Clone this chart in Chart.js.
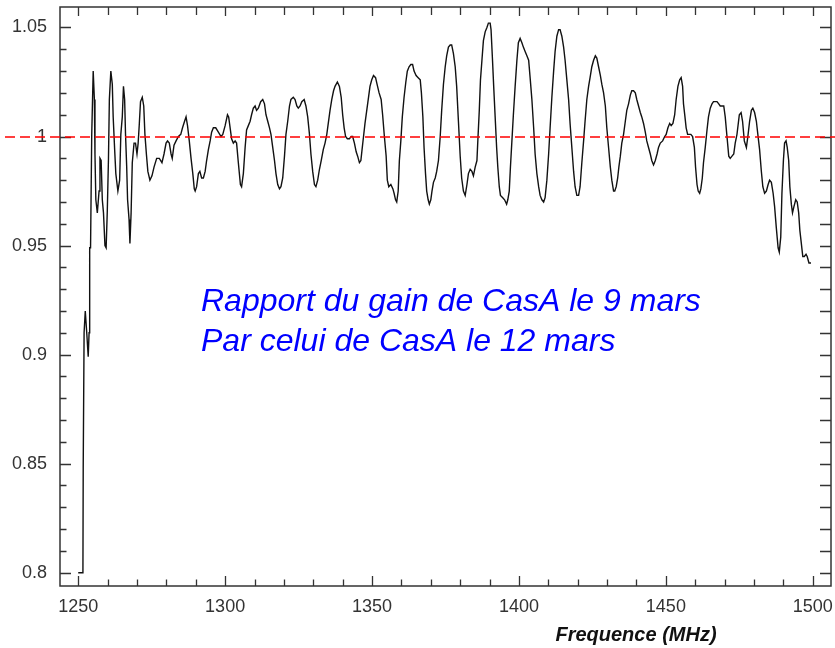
<!DOCTYPE html>
<html>
<head>
<meta charset="utf-8">
<script src="https://cdn.jsdelivr.net/npm/chart.js@4.4.1/dist/chart.umd.min.js"></script>
<style>
  html, body { margin: 0; padding: 0; background: #fff; }
  #wrap { width: 835px; height: 648px; }
</style>
</head>
<body>
<div id="wrap"><canvas id="gainChart" width="835" height="648"></canvas></div>
<script>
// Ratio of CasA gain (9 mars / 12 mars)
const freqs = [
  1250.0, 1251.6, 1251.7, 1251.9, 1252.0, 1252.4, 1252.9, 1253.4, 1253.7, 1253.9,
  1254.2, 1254.6, 1255.1, 1255.5, 1255.7, 1256.0, 1256.5, 1257.1, 1257.4, 1257.8,
  1258.2, 1258.6, 1259.1, 1259.5, 1259.9, 1260.3, 1260.6, 1261.1, 1261.6, 1261.9,
  1262.4, 1262.8, 1263.5, 1264.1, 1264.5, 1265.0, 1265.4, 1265.8, 1266.1, 1266.5,
  1266.8, 1267.3, 1267.6, 1268.0, 1268.4, 1269.0, 1269.5, 1270.0, 1270.4, 1270.8,
  1271.2, 1271.8, 1272.3, 1272.7, 1273.2, 1273.7, 1274.4, 1275.1, 1275.8, 1276.7,
  1277.6, 1278.5, 1279.2, 1279.9, 1280.4, 1281.0, 1281.6, 1282.0, 1282.6, 1283.3,
  1284.1, 1284.9, 1285.5, 1286.2, 1286.7, 1287.2, 1287.8, 1288.4, 1289.0, 1289.5,
  1289.8, 1290.3, 1290.9, 1291.4, 1292.0, 1292.6, 1293.2, 1293.7, 1294.3, 1294.9,
  1295.4, 1296.0, 1296.8, 1297.7, 1298.6, 1299.2, 1300.0, 1300.8, 1301.2, 1301.7,
  1302.2, 1302.8, 1303.4, 1303.9, 1304.5, 1305.2, 1305.6, 1306.2, 1306.8, 1307.3,
  1307.9, 1308.5, 1309.0, 1309.6, 1310.2, 1310.7, 1311.3, 1312.1, 1312.8, 1313.4,
  1313.9, 1314.5, 1315.1, 1315.6, 1316.2, 1316.8, 1317.3, 1317.9, 1318.5, 1319.0,
  1319.6, 1320.2, 1320.7, 1321.3, 1321.9, 1322.4, 1323.2, 1323.8, 1324.4, 1324.9,
  1325.5, 1326.1, 1326.9, 1327.5, 1328.1, 1328.7, 1329.2, 1329.8, 1330.4, 1330.9,
  1331.5, 1332.1, 1332.7, 1333.4, 1334.0, 1334.6, 1335.1, 1335.7, 1336.3, 1336.9,
  1337.4, 1338.2, 1338.9, 1339.5, 1340.0, 1340.5, 1341.0, 1341.6, 1342.3, 1342.9,
  1343.4, 1344.0, 1344.6, 1345.1, 1345.7, 1346.2, 1346.6, 1347.1, 1347.6, 1348.2,
  1348.8, 1349.3, 1349.9, 1350.5, 1351.2, 1351.7, 1352.4, 1353.1, 1353.6, 1354.2,
  1354.8, 1355.2, 1355.7, 1356.4, 1357.1, 1357.5, 1358.0, 1358.4, 1358.9, 1359.3,
  1359.8, 1360.3, 1360.9, 1361.5, 1362.0, 1362.6, 1363.2, 1363.8, 1364.3, 1365.0,
  1365.7, 1366.4, 1366.8, 1367.3, 1367.7, 1368.2, 1368.6, 1369.1, 1369.5, 1370.0,
  1370.4, 1370.9, 1371.5, 1372.0, 1372.6, 1373.2, 1373.7, 1374.3, 1374.9, 1375.4,
  1376.0, 1376.6, 1377.1, 1377.7, 1378.3, 1378.8, 1379.4, 1380.0, 1380.5, 1381.1,
  1381.7, 1382.3, 1382.8, 1383.4, 1384.0, 1384.5, 1385.1, 1385.7, 1386.0, 1386.5,
  1386.9, 1387.4, 1387.9, 1388.5, 1389.1, 1389.6, 1390.2, 1390.5, 1391.0, 1391.4,
  1391.9, 1392.4, 1392.8, 1393.3, 1393.7, 1394.4, 1395.1, 1395.8, 1396.2, 1396.7,
  1397.1, 1397.6, 1398.1, 1398.7, 1399.3, 1399.8, 1400.4, 1401.0, 1401.5, 1402.1,
  1402.7, 1403.3, 1403.8, 1404.4, 1405.0, 1405.5, 1406.1, 1406.7, 1407.2, 1407.8,
  1408.4, 1408.9, 1409.5, 1410.1, 1410.6, 1411.2, 1411.8, 1412.3, 1412.9, 1413.5,
  1414.0, 1414.6, 1415.2, 1415.7, 1416.3, 1416.9, 1417.4, 1418.0, 1418.6, 1419.1,
  1419.7, 1420.3, 1420.8, 1421.4, 1422.0, 1422.5, 1423.1, 1423.7, 1424.2, 1424.8,
  1425.4, 1426.0, 1426.5, 1427.1, 1427.7, 1428.2, 1428.8, 1429.4, 1429.9, 1430.5,
  1431.1, 1431.6, 1432.2, 1432.6, 1433.1, 1433.6, 1434.0, 1434.5, 1435.0, 1435.6,
  1436.2, 1436.7, 1437.3, 1437.9, 1438.4, 1439.0, 1439.6, 1440.1, 1440.7, 1441.3,
  1441.8, 1442.4, 1443.0, 1443.5, 1444.1, 1444.7, 1445.2, 1445.8, 1446.4, 1447.0,
  1447.5, 1448.1, 1448.9, 1449.6, 1450.1, 1450.7, 1451.3, 1451.8, 1452.4, 1453.0,
  1453.5, 1454.1, 1454.7, 1455.2, 1455.7, 1456.0, 1456.5, 1456.9, 1457.4, 1458.0,
  1458.5, 1459.1, 1459.7, 1460.1, 1460.6, 1461.0, 1461.5, 1461.9, 1462.4, 1462.8,
  1463.4, 1464.0, 1464.5, 1465.1, 1465.7, 1466.2, 1466.8, 1467.4, 1468.0, 1468.5,
  1469.1, 1469.7, 1470.2, 1470.8, 1471.4, 1471.9, 1472.5, 1473.1, 1473.6, 1474.2,
  1475.0, 1475.6, 1476.1, 1476.7, 1477.4, 1477.9, 1478.5, 1479.1, 1479.6, 1480.2,
  1480.8, 1481.3, 1481.9, 1482.5, 1483.0, 1483.6, 1484.2, 1484.8, 1485.3, 1485.9,
  1486.5, 1487.0, 1487.6, 1488.2, 1488.6, 1489.1, 1489.5, 1490.0, 1490.4, 1490.9,
  1491.3, 1491.8, 1492.2, 1492.7, 1493.1, 1493.6, 1494.2, 1494.7, 1495.2, 1495.6,
  1496.1, 1496.6, 1497.1, 1497.7, 1498.1, 1498.7, 1499.4
];
const gains = [
  0.800, 0.800, 0.848, 0.848, 0.910, 0.920, 0.910, 0.899, 0.910, 0.949,
  0.949, 1.001, 1.030, 1.017, 0.992, 0.971, 0.965, 0.975, 0.990, 0.989,
  0.971, 0.965, 0.950, 0.949, 0.966, 0.990, 1.017, 1.030, 1.024, 1.009,
  0.994, 0.983, 0.975, 0.980, 1.001, 1.009, 1.023, 1.017, 1.001, 0.986,
  0.971, 0.962, 0.951, 0.965, 0.988, 0.997, 0.997, 0.992, 0.997, 1.006,
  1.016, 1.018, 1.014, 1.001, 0.992, 0.984, 0.980, 0.982, 0.986, 0.990,
  0.990, 0.988, 0.992, 0.997, 0.998, 0.997, 0.992, 0.990, 0.996, 0.998,
  1.000, 1.001, 1.004, 1.007, 1.009, 1.005, 0.998, 0.990, 0.983, 0.976,
  0.975, 0.977, 0.983, 0.984, 0.981, 0.981, 0.984, 0.989, 0.994, 0.998,
  1.002, 1.004, 1.004, 1.002, 1.000, 1.001, 1.005, 1.010, 1.009, 1.004,
  0.999, 0.997, 0.998, 0.997, 0.988, 0.978, 0.977, 0.983, 0.995, 1.003,
  1.005, 1.007, 1.010, 1.013, 1.014, 1.012, 1.013, 1.016, 1.017, 1.015,
  1.010, 1.007, 1.004, 1.001, 0.995, 0.989, 0.983, 0.978, 0.976, 0.977,
  0.981, 0.991, 1.001, 1.007, 1.014, 1.017, 1.018, 1.017, 1.014, 1.013,
  1.014, 1.016, 1.017, 1.014, 1.009, 1.001, 0.992, 0.984, 0.978, 0.977,
  0.980, 0.985, 0.989, 0.994, 0.997, 1.001, 1.006, 1.012, 1.017, 1.021,
  1.023, 1.025, 1.023, 1.018, 1.010, 1.004, 1.000, 0.999, 0.999, 1.000,
  1.000, 0.997, 0.993, 0.991, 0.988, 0.989, 0.994, 1.000, 1.006, 1.012,
  1.018, 1.023, 1.026, 1.028, 1.027, 1.024, 1.020, 1.017, 1.010, 1.000,
  0.991, 0.980, 0.977, 0.978, 0.976, 0.974, 0.971, 0.970, 0.975, 0.989,
  0.998, 1.009, 1.018, 1.025, 1.030, 1.032, 1.033, 1.033, 1.030, 1.028,
  1.027, 1.026, 1.020, 1.009, 0.995, 0.983, 0.975, 0.971, 0.969, 0.971,
  0.975, 0.979, 0.981, 0.984, 0.989, 1.000, 1.012, 1.024, 1.032, 1.037,
  1.041, 1.042, 1.042, 1.038, 1.032, 1.023, 1.007, 0.991, 0.981, 0.975,
  0.973, 0.978, 0.983, 0.985, 0.984, 0.982, 0.986, 0.989, 0.998, 1.012,
  1.026, 1.035, 1.044, 1.048, 1.050, 1.052, 1.052, 1.049, 1.035, 1.023,
  1.009, 0.995, 0.986, 0.977, 0.973, 0.972, 0.971, 0.969, 0.971, 0.975,
  0.986, 0.998, 1.010, 1.023, 1.035, 1.043, 1.045, 1.043, 1.041, 1.039,
  1.037, 1.035, 1.027, 1.017, 1.004, 0.992, 0.983, 0.977, 0.973, 0.971,
  0.970, 0.972, 0.980, 0.992, 1.004, 1.018, 1.030, 1.039, 1.046, 1.049,
  1.049, 1.046, 1.041, 1.035, 1.026, 1.017, 1.006, 0.995, 0.984, 0.977,
  0.973, 0.973, 0.977, 0.988, 0.998, 1.007, 1.017, 1.023, 1.027, 1.032,
  1.035, 1.037, 1.036, 1.032, 1.028, 1.024, 1.020, 1.014, 1.004, 0.995,
  0.986, 0.980, 0.975, 0.975, 0.977, 0.981, 0.986, 0.991, 0.997, 1.001,
  1.007, 1.012, 1.015, 1.019, 1.021, 1.021, 1.020, 1.017, 1.014, 1.011,
  1.009, 1.006, 1.002, 0.998, 0.995, 0.992, 0.989, 0.987, 0.989, 0.992,
  0.995, 0.997, 0.998, 1.000, 1.001, 1.004, 1.006, 1.005, 1.006, 1.010,
  1.017, 1.023, 1.026, 1.027, 1.023, 1.015, 1.009, 1.004, 1.001, 1.001,
  1.001, 1.000, 0.995, 0.986, 0.978, 0.975, 0.974, 0.976, 0.981, 0.988,
  0.995, 1.003, 1.009, 1.013, 1.015, 1.016, 1.016, 1.016, 1.015, 1.014,
  1.014, 1.014, 1.009, 1.000, 0.991, 0.990, 0.991, 0.992, 0.997, 1.001,
  1.010, 1.011, 1.007, 0.998, 0.995, 1.000, 1.007, 1.012, 1.013, 1.011,
  1.007, 1.001, 0.994, 0.984, 0.977, 0.974, 0.975, 0.978, 0.980, 0.979,
  0.974, 0.968, 0.958, 0.949, 0.947, 0.954, 0.974, 0.989, 0.997, 0.998,
  0.995, 0.989, 0.977, 0.969, 0.965, 0.968, 0.971, 0.970, 0.965, 0.957,
  0.951, 0.945, 0.945, 0.946, 0.945, 0.942, 0.942
];

const xTicks = [1250, 1300, 1350, 1400, 1450, 1500];
const yTicks = [0.8, 0.85, 0.9, 0.95, 1, 1.05];
const refLevel = 1;
const noteLines = ['Rapport du gain de CasA le 9 mars', 'Par celui de CasA le 12 mars'];
const xTitle = 'Frequence (MHz)';

const FONT = '"Liberation Sans", Arial, sans-serif';
const AXIS_COLOR = '#333333';

// frame, inward ticks on 4 sides, red reference line, texts
const framePlugin = {
    id: 'frame',
    afterDraw(chart) {
        const { ctx, chartArea: a, scales: { x, y } } = chart;
        ctx.save();

        // box
        ctx.strokeStyle = AXIS_COLOR;
        ctx.lineWidth = 1.5;
        ctx.strokeRect(a.left, a.top, a.right - a.left, a.bottom - a.top);

        // minor ticks every 10 MHz / 0.01
        ctx.lineWidth = 1.3;
        ctx.beginPath();
        for (let i = 0; i <= 25; i++) {
            const px = Math.round(x.getPixelForValue(1250 + i * 10)) + 0.5;
            const major = i % 5 === 0;
            ctx.moveTo(px, a.bottom); ctx.lineTo(px, a.bottom - (major ? 10 : 6.5));
            ctx.moveTo(px, a.top); ctx.lineTo(px, a.top + (major ? 9 : 8));
        }
        for (let i = 0; i <= 25; i++) {
            const py = Math.round(y.getPixelForValue(0.8 + i * 0.01)) + 0.5;
            const major = i % 5 === 0;
            ctx.moveTo(a.left, py); ctx.lineTo(a.left + (major ? 11 : 6.5), py);
            ctx.moveTo(a.right, py); ctx.lineTo(a.right - 11, py);
        }
        ctx.stroke();

        // dashed red line at ratio = 1 (runs across the whole width like the original)
        const yr = Math.round(y.getPixelForValue(refLevel));
        ctx.strokeStyle = 'rgb(255, 0, 0)';
        ctx.lineWidth = 1.6;
        ctx.setLineDash([10, 5]);
        ctx.beginPath();
        ctx.moveTo(5, yr);
        ctx.lineTo(chart.width, yr);
        ctx.stroke();
        ctx.setLineDash([]);

        // annotation
        ctx.fillStyle = '#0000ff';
        ctx.font = 'italic 32px ' + FONT;
        ctx.textAlign = 'left';
        ctx.textBaseline = 'alphabetic';
        ctx.fillText(noteLines[0], 201, 311);
        ctx.fillText(noteLines[1], 201, 351);

        // axis title, sits right of centre in the original
        ctx.fillStyle = '#111111';
        ctx.font = 'bold italic 20px ' + FONT;
        ctx.textAlign = 'center';
        ctx.fillText(xTitle, 636, 641);

        ctx.restore();
    }
};

const points = freqs.map((f, i) => ({ x: f, y: gains[i] }));

new Chart(document.getElementById('gainChart'), {
    type: 'line',
    data: {
        datasets: [{
            data: points,
            borderColor: '#111111',
            borderWidth: 1.4,
            pointRadius: 0,
            tension: 0,
            fill: false
        }]
    },
    options: {
        responsive: false,
        animation: false,
        layout: { padding: { top: 7, right: 4, left: 0, bottom: 0 } },
        plugins: { legend: { display: false }, tooltip: { enabled: false } },
        scales: {
            x: {
                type: 'linear',
                min: 1243.8,
                max: 1506.2,
                afterBuildTicks: s => { s.ticks = xTicks.map(v => ({ value: v })); },
                afterFit: s => { s.height = 62; s.paddingLeft = 0; s.paddingRight = 0; },
                grid: { display: false, drawTicks: false },
                border: { display: false },
                ticks: {
                    color: AXIS_COLOR,
                    font: { family: FONT, size: 18 },
                    padding: 10,
                    maxRotation: 0,
                    autoSkip: false,
                    callback: v => String(v)
                }
            },
            y: {
                type: 'linear',
                min: 0.7939,
                max: 1.0594,
                afterBuildTicks: s => { s.ticks = yTicks.map(v => ({ value: v })); },
                afterFit: s => { s.width = 60; s.paddingTop = 0; s.paddingBottom = 0; },
                grid: { display: false, drawTicks: false },
                border: { display: false },
                ticks: {
                    color: AXIS_COLOR,
                    font: { family: FONT, size: 18 },
                    padding: 13,
                    callback: v => String(+v.toFixed(2))
                }
            }
        }
    },
    plugins: [framePlugin]
});
</script>
</body>
</html>
